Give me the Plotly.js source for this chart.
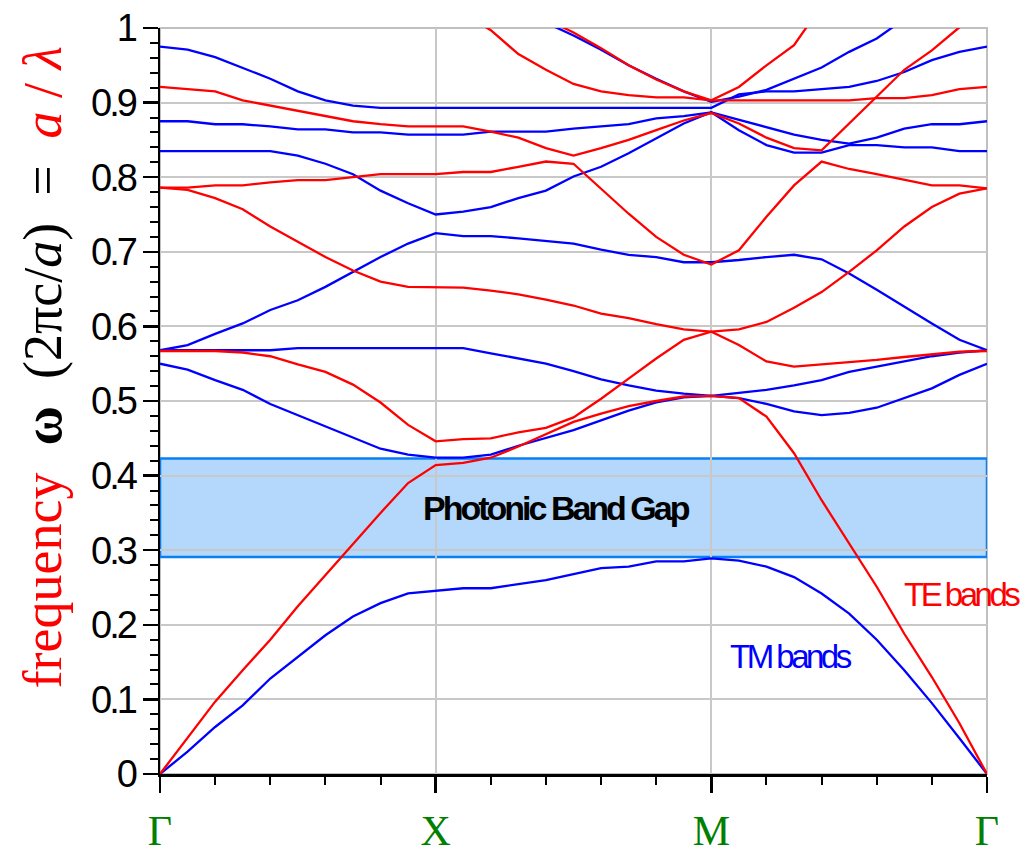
<!DOCTYPE html>
<html>
<head>
<meta charset="utf-8">
<script src="https://cdn.plot.ly/plotly-3.0.1.min.js"></script>
<style>html,body{margin:0;padding:0;background:#fff;}#chart{width:1027px;height:856px;}</style>
</head>
<body>
<div id="chart"></div>
<script>
// k-path index: Γ(0) → X(10) → M(20) → Γ(30)
var kIndex = [0,1,2,3,4,5,6,7,8,9,10,11,12,13,14,15,16,17,18,19,20,21,22,23,24,25,26,27,28,29,30];
var kTicks = [0, 10, 20, 30];
var kLabels = ['Γ', 'X', 'M', 'Γ'];
var yTicks = [0, 0.1, 0.2, 0.3, 0.4, 0.5, 0.6, 0.7, 0.8, 0.9, 1];
var yLabels = ['0', '0.1', '0.2', '0.3', '0.4', '0.5', '0.6', '0.7', '0.8', '0.9', '1'];

// photonic band gap limits
var gapBottom = 0.291;
var gapTop = 0.423;

// TM bands (blue)
var tm1 = [0, 0.030, 0.063, 0.092, 0.128, 0.157, 0.186, 0.211, 0.229, 0.242, 0.245, 0.249, 0.249, 0.255, 0.260, 0.268, 0.276, 0.278, 0.285, 0.285, 0.289, 0.286, 0.278, 0.264, 0.242, 0.215, 0.180, 0.139, 0.095, 0.048, 0];
var tm2 = [0.550, 0.542, 0.528, 0.515, 0.496, 0.481, 0.465, 0.450, 0.436, 0.428, 0.424, 0.424, 0.428, 0.440, 0.451, 0.461, 0.474, 0.487, 0.498, 0.505, 0.507, 0.504, 0.496, 0.486, 0.481, 0.484, 0.491, 0.504, 0.517, 0.535, 0.550];
var tm3 = [0.568, 0.568, 0.568, 0.568, 0.568, 0.571, 0.571, 0.571, 0.571, 0.571, 0.571, 0.571, 0.564, 0.557, 0.550, 0.540, 0.529, 0.521, 0.514, 0.510, 0.507, 0.511, 0.515, 0.521, 0.528, 0.539, 0.546, 0.554, 0.560, 0.565, 0.568];
var tm4 = [0.568, 0.575, 0.590, 0.604, 0.622, 0.635, 0.653, 0.673, 0.693, 0.711, 0.725, 0.721, 0.721, 0.718, 0.715, 0.711, 0.703, 0.696, 0.693, 0.686, 0.686, 0.689, 0.693, 0.696, 0.690, 0.671, 0.649, 0.626, 0.604, 0.582, 0.568];
var tm5 = [0.835, 0.835, 0.835, 0.835, 0.835, 0.829, 0.818, 0.804, 0.782, 0.765, 0.750, 0.754, 0.760, 0.772, 0.782, 0.801, 0.814, 0.832, 0.852, 0.872, 0.887, 0.863, 0.843, 0.833, 0.833, 0.843, 0.843, 0.840, 0.840, 0.835, 0.835];
var tm6 = [0.875, 0.875, 0.871, 0.871, 0.868, 0.864, 0.864, 0.860, 0.860, 0.857, 0.857, 0.857, 0.861, 0.861, 0.861, 0.865, 0.868, 0.871, 0.879, 0.882, 0.887, 0.877, 0.868, 0.857, 0.850, 0.845, 0.853, 0.865, 0.871, 0.871, 0.875];
var tm7 = [0.975, 0.971, 0.961, 0.946, 0.932, 0.915, 0.903, 0.896, 0.893, 0.893, 0.893, 0.893, 0.893, 0.893, 0.893, 0.893, 0.893, 0.893, 0.893, 0.893, 0.893, 0.911, 0.915, 0.915, 0.918, 0.921, 0.929, 0.941, 0.957, 0.968, 0.975];
var tm8 = [null, null, null, null, null, null, null, null, null, null, null, null, null, null, 1.007, 0.990, 0.971, 0.950, 0.932, 0.915, 0.901, 0.908, 0.917, 0.932, 0.947, 0.968, 0.986, 1.012, null, null, null];

// TE bands (red)
var te1 = [0, 0.048, 0.097, 0.139, 0.180, 0.225, 0.267, 0.309, 0.350, 0.390, 0.414, 0.417, 0.424, 0.439, 0.456, 0.472, 0.483, 0.493, 0.500, 0.506, 0.507, 0.504, 0.479, 0.430, 0.367, 0.309, 0.251, 0.188, 0.130, 0.068, 0];
var te2 = [0.567, 0.567, 0.567, 0.565, 0.560, 0.549, 0.539, 0.522, 0.498, 0.468, 0.446, 0.449, 0.450, 0.458, 0.464, 0.478, 0.503, 0.530, 0.557, 0.582, 0.593, 0.575, 0.553, 0.546, 0.549, 0.552, 0.555, 0.559, 0.563, 0.566, 0.567];
var te3 = [0.786, 0.783, 0.772, 0.757, 0.734, 0.713, 0.693, 0.675, 0.660, 0.653, 0.653, 0.652, 0.648, 0.643, 0.636, 0.628, 0.617, 0.611, 0.603, 0.596, 0.593, 0.596, 0.606, 0.625, 0.646, 0.673, 0.702, 0.734, 0.760, 0.778, 0.785];
var te4 = [0.786, 0.786, 0.789, 0.789, 0.793, 0.796, 0.796, 0.800, 0.804, 0.804, 0.804, 0.807, 0.807, 0.814, 0.821, 0.818, 0.785, 0.751, 0.720, 0.696, 0.683, 0.702, 0.747, 0.789, 0.821, 0.811, 0.804, 0.797, 0.789, 0.789, 0.785];
var te5 = [0.921, 0.918, 0.915, 0.903, 0.896, 0.889, 0.882, 0.875, 0.871, 0.868, 0.868, 0.868, 0.861, 0.853, 0.839, 0.829, 0.839, 0.850, 0.863, 0.876, 0.886, 0.872, 0.853, 0.839, 0.836, 0.872, 0.908, 0.944, 0.970, 1.001, 1.030];
var te6 = [null, null, null, null, null, null, null, null, null, null, null, 1.020, 0.997, 0.965, 0.944, 0.925, 0.915, 0.910, 0.907, 0.907, 0.903, 0.903, 0.903, 0.903, 0.903, 0.903, 0.906, 0.906, 0.910, 0.918, 0.921];
var te7 = [null, null, null, null, null, null, null, null, null, null, null, null, null, null, 1.012, 0.994, 0.973, 0.950, 0.931, 0.915, 0.903, 0.921, 0.950, 0.977, 1.030, null, null, null, null, null, null];

var tmBands = [tm1, tm2, tm3, tm4, tm5, tm6, tm7, tm8];
var teBands = [te1, te2, te3, te4, te5, te6, te7];

var traces = [];
tmBands.forEach(function (b, i) {
  traces.push({x: kIndex, y: b, type: 'scatter', mode: 'lines', name: 'TM band ' + (i + 1),
    line: {color: '#0000ff', width: 2.3}, showlegend: false, hoverinfo: 'skip', connectgaps: false});
});
teBands.forEach(function (b, i) {
  traces.push({x: kIndex, y: b, type: 'scatter', mode: 'lines', name: 'TE band ' + (i + 1),
    line: {color: '#ff0000', width: 2.3}, showlegend: false, hoverinfo: 'skip', connectgaps: false});
});

var sans = 'Liberation Sans, Arial, sans-serif';
var serif = 'Liberation Serif, Times New Roman, DejaVu Serif, serif';
function tight(s, px) { return '<span style="letter-spacing:' + px + 'px">' + s + '</span>'; }
var nb = '\u00a0';

var layout = {
  width: 1027, height: 856,
  margin: {l: 160, r: 40, t: 28, b: 82, pad: 0},
  paper_bgcolor: '#ffffff', plot_bgcolor: '#ffffff',
  showlegend: false,
  xaxis: {
    range: [kIndex[0], kIndex[kIndex.length - 1]],
    tickmode: 'array', tickvals: kTicks, ticktext: kLabels,
    showgrid: true, gridcolor: '#c8c8c8', gridwidth: 2,
    zeroline: false, showline: true, linecolor: '#000000', linewidth: 2.5,
    ticks: 'outside', ticklen: 16, tickwidth: 2.5, tickcolor: '#000000',
    tickfont: {family: serif, size: 42, color: '#008000'},
    ticklabelstandoff: 2,
    minor: {tickmode: 'linear', tick0: 0, dtick: 2, ticks: 'outside', ticklen: 8, tickwidth: 2, tickcolor: '#000000', showgrid: false},
    fixedrange: true
  },
  yaxis: {
    range: [0, 1],
    tickmode: 'array', tickvals: yTicks, ticktext: yLabels.map(function (s) { return tight(s, -3); }),
    showgrid: true, gridcolor: '#c8c8c8', gridwidth: 2,
    zeroline: false, showline: true, linecolor: '#000000', linewidth: 2.5,
    ticks: 'outside', ticklen: 15, tickwidth: 2.5, tickcolor: '#000000',
    tickfont: {family: sans, size: 38, color: '#000000'},
    minor: {tickmode: 'linear', tick0: 0, dtick: 0.02, ticks: 'outside', ticklen: 8, tickwidth: 2, tickcolor: '#000000', showgrid: false},
    fixedrange: true
  },
  shapes: [
    {type: 'rect', xref: 'x', yref: 'y', x0: kIndex[0], x1: kIndex[kIndex.length - 1], y0: gapBottom, y1: gapTop,
     fillcolor: '#b3d8fb', line: {color: '#0a7ff5', width: 2.5}, layer: 'below'},
    {type: 'rect', xref: 'paper', yref: 'paper', x0: 0, x1: 1, y0: 0, y1: 1,
     line: {color: '#c0c0c0', width: 2}, layer: 'below'}
  ],
  annotations: [
    {xref: 'x', yref: 'y', x: 14.4, y: (gapBottom + gapTop) / 2, text: '<b>' + tight('Photonic Band Gap', -3) + '</b>', showarrow: false,
     font: {family: sans, size: 34, color: '#000000'}, xanchor: 'center', yanchor: 'middle'},
    {xref: 'x', yref: 'y', x: 26.9, y: 0.240, text: tight('TE bands', -3.5), showarrow: false,
     font: {family: sans, size: 33, color: '#ff0000'}, xanchor: 'left', yanchor: 'middle'},
    {xref: 'x', yref: 'y', x: 20.6, y: 0.157, text: tight('TM bands', -3.5), showarrow: false,
     font: {family: sans, size: 33, color: '#0000ff'}, xanchor: 'left', yanchor: 'middle'},
    {xref: 'paper', yref: 'paper', x: -0.1415, y: 0.545, textangle: -90, showarrow: false,
     xanchor: 'center', yanchor: 'middle',
     text: '<span style="color:#ff0000">frequency</span>' + nb + nb + '<b>ω</b>' + nb + nb + '(2πc/<i>a</i>)' + nb + nb + '=' + nb + nb + '<span style="color:#ff0000"><i>a</i> / <i>λ</i></span>',
     font: {family: serif, size: 54, color: '#000000'}}
  ]
};

Plotly.newPlot('chart', traces, layout, {displayModeBar: false, staticPlot: true});
</script>
</body>
</html>
